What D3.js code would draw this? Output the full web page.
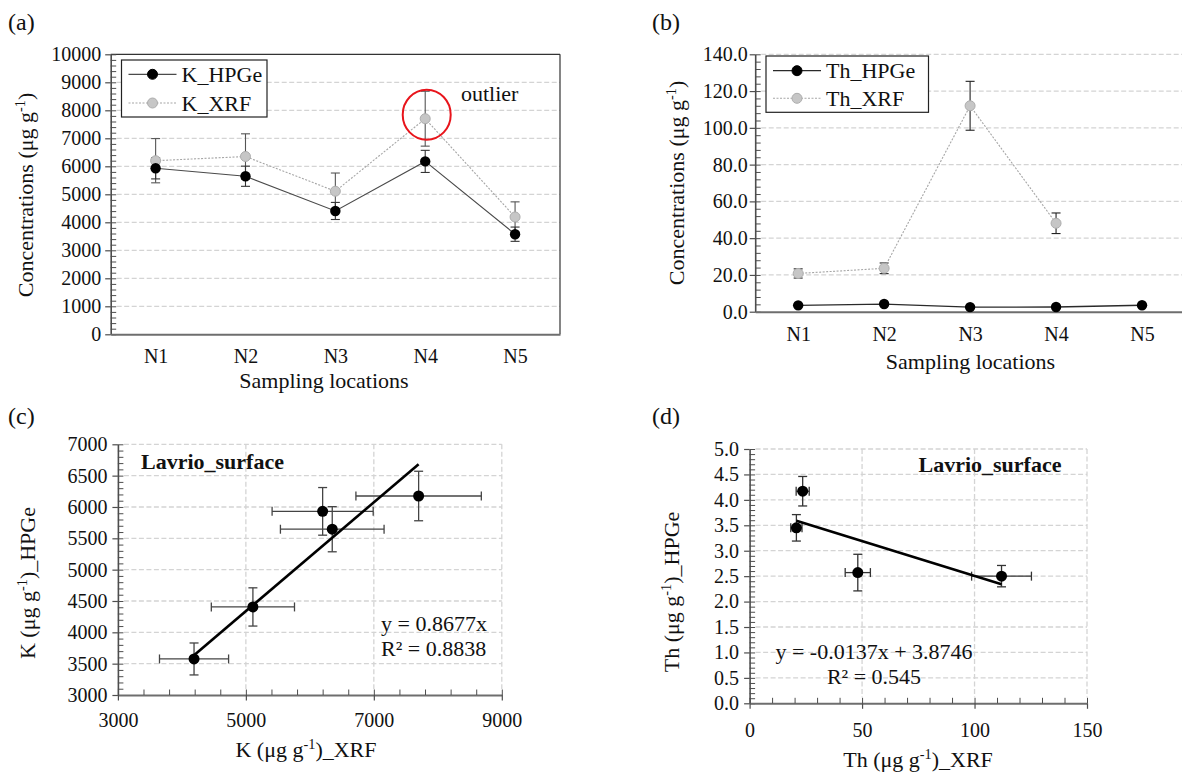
<!DOCTYPE html>
<html><head><meta charset="utf-8">
<script src="https://cdn.jsdelivr.net/npm/d3@7"></script>
<style>
html,body{margin:0;padding:0;background:#fff;}
svg{display:block;}
svg text{font-family:"Liberation Serif","Times New Roman",serif;}
</style></head>
<body>
<svg id="chart" width="1182" height="776"></svg>
<script>
// ---------------- data ----------------
const categories = ["N1","N2","N3","N4","N5"];
const kHPGe    = [5930, 5645, 4405, 6175, 3575];
const kHPGeErr = [380, 360, 305, 395, 255];
const kXRF     = [6200, 6350, 5110, 7700, 4190];
const kXRFErr  = [790, 810, 650, 980, 540];
const thHPGe    = [3.45, 4.17, 2.50, 2.57, 3.50];
const thHPGeErr = [0.26, 0.29, 0.21, 0.36, 0.30];
const thXRF     = [20.8, 23.6, 112.0, 48.1, null];
const thXRFErr  = [2.5, 2.9, 13.3, 5.6, null];
const kFit  = [0.8677, 0];        // slope, intercept
const thFit = [-0.0137, 3.8746];  // slope, intercept
const kConcTicks  = [0,1000,2000,3000,4000,5000,6000,7000,8000,9000,10000];
const thConcTicks = [0,20,40,60,80,100,120,140];
const kScatterXTicks = [3000,5000,7000,9000];
const kScatterYTicks = [3000,3500,4000,4500,5000,5500,6000,6500,7000];
const thScatterXTicks = [0,50,100,150];
const thScatterYTicks = [0,0.5,1,1.5,2,2.5,3,3.5,4,4.5,5];

// ---------------- helpers ----------------
const svg = d3.select("#chart");
const FONT = "Liberation Serif";
const AX = "#4d4d4d", GRID = "#d4d4d4";
const TICKFS = 20, TITLEFS = 22;

function grid(g, x1, x2, y1, y2) {
  g.append("line").attr("x1",x1).attr("x2",x2).attr("y1",y1).attr("y2",y2)
   .attr("stroke",GRID).attr("stroke-width",1.3).attr("stroke-dasharray","5,2.5");
}
function styleAxis(sel, fs) {
  sel.attr("font-family",FONT).attr("font-size",fs);
  sel.selectAll("text").attr("font-size",fs).attr("fill","#111").attr("font-family",FONT);
  sel.selectAll("line").attr("stroke",AX).attr("stroke-width",1.2);
  sel.select(".domain").attr("stroke",AX).attr("stroke-width",1.6);
}
function yAxisDraw(x, scale, majors, minors, fmt, pad) {
  const a = svg.append("g").attr("transform",`translate(${x},0)`)
    .call(d3.axisLeft(scale).tickValues(majors).tickSize(5.5).tickSizeOuter(0).tickPadding(pad).tickFormat(fmt));
  styleAxis(a, TICKFS);
  const b = svg.append("g").attr("transform",`translate(${x},0)`)
    .call(d3.axisLeft(scale).tickValues(minors).tickSize(-5.5).tickSizeOuter(0).tickFormat(""));
  b.select(".domain").remove();
  b.selectAll("line").attr("stroke",AX).attr("stroke-width",1);
}
function xAxisDraw(y, scale, majors, minors, fmt, labelY, hideTicks) {
  const a = svg.append("g").attr("transform",`translate(0,${y})`)
    .call(d3.axisBottom(scale).tickValues(majors).tickSize(hideTicks?0:5.5).tickSizeOuter(0).tickFormat(fmt));
  styleAxis(a, TICKFS);
  a.select(".domain").attr("stroke","#6e6e6e").attr("stroke-width",2);
  a.selectAll("text").attr("y", labelY - y).attr("dy", null);
  if (minors) {
    const b = svg.append("g").attr("transform",`translate(0,${y})`)
      .call(d3.axisBottom(scale).tickValues(minors).tickSize(-5.5).tickSizeOuter(0).tickFormat(""));
    b.select(".domain").remove();
    b.selectAll("line").attr("stroke",AX).attr("stroke-width",1);
  }
}
function errV(g, x, y1, y2, cap, color, w) {
  g.append("line").attr("x1",x).attr("x2",x).attr("y1",y1).attr("y2",y2).attr("stroke",color).attr("stroke-width",w);
  g.append("line").attr("x1",x-cap).attr("x2",x+cap).attr("y1",y1).attr("y2",y1).attr("stroke",color).attr("stroke-width",w);
  g.append("line").attr("x1",x-cap).attr("x2",x+cap).attr("y1",y2).attr("y2",y2).attr("stroke",color).attr("stroke-width",w);
}
function errH(g, y, x1, x2, cap, color, w) {
  g.append("line").attr("x1",x1).attr("x2",x2).attr("y1",y).attr("y2",y).attr("stroke",color).attr("stroke-width",w);
  g.append("line").attr("x1",x1).attr("x2",x1).attr("y1",y-cap).attr("y2",y+cap).attr("stroke",color).attr("stroke-width",w);
  g.append("line").attr("x1",x2).attr("x2",x2).attr("y1",y-cap).attr("y2",y+cap).attr("stroke",color).attr("stroke-width",w);
}
function unitText(sel, pre, post) {
  sel.append("tspan").text(pre + " (μg g");
  sel.append("tspan").attr("baseline-shift","super").attr("font-size","65%").text("-1");
  sel.append("tspan").text(")" + post);
}
function label(x, y, t, fs, opts={}) {
  const s = svg.append("text").attr("x",x).attr("y",y).attr("font-size",fs).attr("font-family",FONT).attr("fill","#111")
    .attr("text-anchor",opts.anchor||"start").text(t);
  if (opts.bold) s.attr("font-weight","bold");
  return s;
}
function yTitle(cx, cy, pre, post) {
  const t = svg.append("text").attr("transform",`translate(${cx},${cy}) rotate(-90)`)
    .attr("text-anchor","middle").attr("font-size",TITLEFS).attr("font-family",FONT).attr("fill","#111");
  unitText(t, pre, post);
}
function legend(x0, y0, w, h, entries) {
  const g = svg.append("g");
  g.append("rect").attr("x",x0).attr("y",y0).attr("width",w).attr("height",h)
    .attr("fill","#fff").attr("stroke","#222").attr("stroke-width",1.2);
  entries.forEach(e => {
    g.append("line").attr("x1",x0+7).attr("x2",x0+55).attr("y1",e.y).attr("y2",e.y)
      .attr("stroke",e.line).attr("stroke-width",e.w).attr("stroke-dasharray",e.dash||null);
    g.append("circle").attr("cx",x0+31).attr("cy",e.y).attr("r",5).attr("fill",e.fill).attr("stroke",e.stroke);
    g.append("text").attr("x",x0+60).attr("y",e.y+7.5).attr("font-size",TITLEFS).attr("font-family",FONT).attr("fill","#111").text(e.name);
  });
}
const HP = {line:"#4a4a4a", fill:"#000", stroke:"#000"};
const XR = {line:"#a6a6a6", fill:"#c6c6c6", stroke:"#adadad"};

// ================= Panel (a) =================
{
  const L=110.7, R=560, T=54.3, B=334.3;
  const x = d3.scalePoint().domain(categories).range([L,R]).padding(0.5);
  const y = d3.scaleLinear().domain([0,10000]).range([B,T]);
  const gg = svg.append("g");
  kConcTicks.filter(v=>v>0 && v<10000).forEach(v=>grid(gg, L+6, R, y(v), y(v)));
  svg.append("line").attr("x1",L).attr("x2",R).attr("y1",T).attr("y2",T).attr("stroke","#333").attr("stroke-width",1.2);
  svg.append("line").attr("x1",R).attr("x2",R).attr("y1",T).attr("y2",B).attr("stroke","#333").attr("stroke-width",1.2);
  const minors = d3.range(0,10001,200).filter(v=>v%1000!==0);
  yAxisDraw(L, y, kConcTicks, minors.concat(kConcTicks), d3.format("d"), 4);
  xAxisDraw(B, x, categories, null, d=>d, 363.5, true);
  const ge = svg.append("g");
  categories.forEach((c,i)=>{
    errV(ge, x(c), y(kXRF[i]-kXRFErr[i]), y(kXRF[i]+kXRFErr[i]), 4.5, "#555", 1.1);
    errV(ge, x(c), y(kHPGe[i]-kHPGeErr[i]), y(kHPGe[i]+kHPGeErr[i]), 4.5, "#333", 1.1);
  });
  const line = arr => d3.line().x((d,i)=>x(categories[i])).y(d=>y(d))(arr);
  svg.append("path").attr("d",line(kXRF)).attr("fill","none").attr("stroke",XR.line).attr("stroke-width",1.1).attr("stroke-dasharray","2,1.5");
  svg.append("path").attr("d",line(kHPGe)).attr("fill","none").attr("stroke",HP.line).attr("stroke-width",1.2);
  categories.forEach((c,i)=>{
    svg.append("circle").attr("cx",x(c)).attr("cy",y(kXRF[i])).attr("r",5).attr("fill",XR.fill).attr("stroke",XR.stroke);
    svg.append("circle").attr("cx",x(c)).attr("cy",y(kHPGe[i])).attr("r",5.2).attr("fill",HP.fill);
  });
  svg.append("ellipse").attr("cx",x("N4")+1.5).attr("cy",y(kXRF[3])-4).attr("rx",24).attr("ry",25)
    .attr("fill","none").attr("stroke","#e8141b").attr("stroke-width",2);
  label(461, 101, "outlier", TITLEFS);
  legend(121.5, 60, 145.5, 57, [
    {y:74.3, name:"K_HPGe", line:HP.line, w:1.2, fill:HP.fill, stroke:HP.stroke},
    {y:103, name:"K_XRF", line:XR.line, w:1.1, dash:"2,1.5", fill:XR.fill, stroke:XR.stroke}]);
  yTitle(33, 195, "Concentrations", "");
  label(324, 388, "Sampling locations", TITLEFS, {anchor:"middle"});
  label(8, 30, "(a)", 24);
}

// ================= Panel (b) =================
{
  const L=755.2, R=1185, T=54.3, B=311.7;
  const x = d3.scalePoint().domain(categories).range([L,R]).padding(0.5);
  const y = d3.scaleLinear().domain([0,140]).range([B,T]);
  const gg = svg.append("g");
  thConcTicks.filter(v=>v>0).forEach(v=>grid(gg, L+6, R, y(v), y(v)));
  const minors = d3.range(0,141,4).filter(v=>v%20!==0);
  yAxisDraw(L, y, thConcTicks, minors.concat(thConcTicks), d3.format(".1f"), 2);
  xAxisDraw(B, x, categories, null, d=>d, 341, true);
  const ge = svg.append("g");
  categories.forEach((c,i)=>{
    if (thXRF[i]!=null) errV(ge, x(c), y(thXRF[i]-thXRFErr[i]), y(thXRF[i]+thXRFErr[i]), 4.5, "#222", 1.1);
    errV(ge, x(c), y(thHPGe[i]-thHPGeErr[i]), y(thHPGe[i]+thHPGeErr[i]), 4.5, "#222", 1.1);
  });
  const idx = thXRF.map((d,i)=>i).filter(i=>thXRF[i]!=null);
  const lx = d3.line().x(i=>x(categories[i])).y(i=>y(thXRF[i]));
  svg.append("path").attr("d",lx(idx)).attr("fill","none").attr("stroke",XR.line).attr("stroke-width",1.1).attr("stroke-dasharray","2,1.5");
  const lh = d3.line().x((d,i)=>x(categories[i])).y(d=>y(d));
  svg.append("path").attr("d",lh(thHPGe)).attr("fill","none").attr("stroke","#2a2a2a").attr("stroke-width",1.3);
  categories.forEach((c,i)=>{
    if (thXRF[i]!=null) svg.append("circle").attr("cx",x(c)).attr("cy",y(thXRF[i])).attr("r",5).attr("fill",XR.fill).attr("stroke",XR.stroke);
    svg.append("circle").attr("cx",x(c)).attr("cy",y(thHPGe[i])).attr("r",5.2).attr("fill",HP.fill);
  });
  legend(766, 56, 162.5, 56.3, [
    {y:70.7, name:"Th_HPGe", line:"#2a2a2a", w:1.3, fill:HP.fill, stroke:HP.stroke},
    {y:98.3, name:"Th_XRF", line:XR.line, w:1.1, dash:"2,1.5", fill:XR.fill, stroke:XR.stroke}]);
  yTitle(684, 183, "Concentrations", "");
  label(970.5, 369, "Sampling locations", TITLEFS, {anchor:"middle"});
  label(652, 30, "(b)", 24);
}

// ================= Panel (c) =================
{
  const L=117.9, R=501.8, T=444.3, B=695;
  const x = d3.scaleLinear().domain([3000,9000]).range([L,R]);
  const y = d3.scaleLinear().domain([3000,7000]).range([B,T]);
  const gg = svg.append("g");
  kScatterYTicks.filter(v=>v>3000).forEach(v=>grid(gg, L+6, R, y(v), y(v)));
  kScatterXTicks.filter(v=>v>3000).forEach(v=>grid(gg, x(v), x(v), T, B-6));
  yAxisDraw(L, y, kScatterYTicks, d3.range(3000,7001,100), d3.format("d"), 5);
  xAxisDraw(B, x, kScatterXTicks, d3.range(3000,9001,400), d3.format("d"), 727, false);
  const ge = svg.append("g");
  kXRF.forEach((xv,i)=>{
    errH(ge, y(kHPGe[i]), x(xv-kXRFErr[i]), x(xv+kXRFErr[i]), 4.5, "#444", 1.3);
    errV(ge, x(xv), y(kHPGe[i]-kHPGeErr[i]), y(kHPGe[i]+kHPGeErr[i]), 4.5, "#444", 1.3);
  });
  const [x0,x1] = d3.extent(kXRF);
  svg.append("line").attr("x1",x(x0)).attr("x2",x(x1))
    .attr("y1",y(kFit[0]*x0+kFit[1])).attr("y2",y(kFit[0]*x1+kFit[1]))
    .attr("stroke","#000").attr("stroke-width",2.6);
  kXRF.forEach((xv,i)=>svg.append("circle").attr("cx",x(xv)).attr("cy",y(kHPGe[i])).attr("r",5.5).attr("fill","#000"));
  label(141, 469, "Lavrio_surface", TITLEFS, {bold:true});
  label(381, 631, "y = 0.8677x", TITLEFS);
  label(381, 656, "R² = 0.8838", TITLEFS);
  yTitle(35, 583, "K", "_HPGe");
  const t = svg.append("text").attr("x",306).attr("y",757).attr("text-anchor","middle").attr("font-size",TITLEFS).attr("font-family",FONT).attr("fill","#111");
  unitText(t, "K", "_XRF");
  label(8, 424, "(c)", 24);
}

// ================= Panel (d) =================
{
  const L=749.6, R=1087, T=449, B=703.3;
  const x = d3.scaleLinear().domain([0,150]).range([L,R]);
  const y = d3.scaleLinear().domain([0,5]).range([B,T]);
  const gg = svg.append("g");
  thScatterYTicks.filter(v=>v>0).forEach(v=>grid(gg, L+6, R, y(v), y(v)));
  thScatterXTicks.filter(v=>v>0).forEach(v=>grid(gg, x(v), x(v), T, B-6));
  yAxisDraw(L, y, thScatterYTicks, d3.range(0,51,1).map(v=>v/10), d3.format(".1f"), 5);
  xAxisDraw(B, x, thScatterXTicks, d3.range(0,151,10), d3.format("d"), 737, false);
  const ge = svg.append("g");
  const pts = thXRF.map((xv,i)=>i).filter(i=>thXRF[i]!=null);
  pts.forEach(i=>{
    errH(ge, y(thHPGe[i]), x(thXRF[i]-thXRFErr[i]), x(thXRF[i]+thXRFErr[i]), 4.5, "#333", 1.3);
    errV(ge, x(thXRF[i]), y(thHPGe[i]-thHPGeErr[i]), y(thHPGe[i]+thHPGeErr[i]), 4.5, "#333", 1.3);
  });
  const xs = pts.map(i=>thXRF[i]);
  const [x0,x1] = d3.extent(xs);
  svg.append("line").attr("x1",x(x0)).attr("x2",x(x1))
    .attr("y1",y(thFit[0]*x0+thFit[1])).attr("y2",y(thFit[0]*x1+thFit[1]))
    .attr("stroke","#000").attr("stroke-width",2.6);
  pts.forEach(i=>svg.append("circle").attr("cx",x(thXRF[i])).attr("cy",y(thHPGe[i])).attr("r",5.5).attr("fill","#000"));
  label(918.5, 472, "Lavrio_surface", TITLEFS, {bold:true});
  label(874, 659, "y = -0.0137x + 3.8746", TITLEFS, {anchor:"middle"});
  label(874, 684, "R² = 0.545", TITLEFS, {anchor:"middle"});
  yTitle(679, 592, "Th", "_HPGe");
  const t = svg.append("text").attr("x",918).attr("y",767).attr("text-anchor","middle").attr("font-size",TITLEFS).attr("font-family",FONT).attr("fill","#111");
  unitText(t, "Th", "_XRF");
  label(652, 424, "(d)", 24);
}
</script>
</body></html>
